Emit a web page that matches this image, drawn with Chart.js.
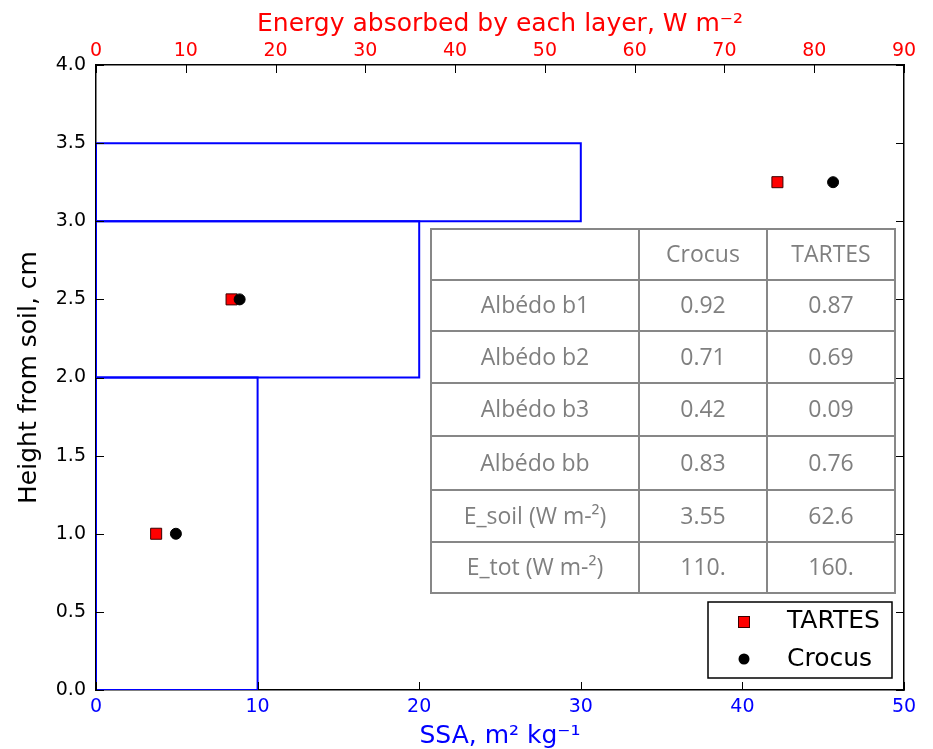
<!DOCTYPE html>
<html><head><meta charset="utf-8">
<script src="https://cdn.jsdelivr.net/npm/chart.js@4"></script>
<style>html,body{margin:0;padding:0;background:#fff;overflow:hidden}</style>
</head><body>
<canvas id="c" width="933" height="749"></canvas>
<script>
// ---- data ----
const layerBottom = [0, 2, 3];
const layerTop = [2, 3, 3.5];
const layerSSA = [10, 20, 30];
const pointHeights = [1.0, 2.5, 3.25];
const tartesEnergy = [6.7, 15.1, 75.9];
const crocusEnergy = [8.9, 16.0, 82.1];
const tableHeader = ['', 'Crocus', 'TARTES'];
const tableRowLabels = ['Albédo b1', 'Albédo b2', 'Albédo b3', 'Albédo bb', 'E_soil (W m-²)', 'E_tot (W m-²)'];
const tableCrocus = ['0.92', '0.71', '0.42', '0.83', '3.55', '110.'];
const tableTartes = ['0.87', '0.69', '0.09', '0.76', '62.6', '160.'];
const seriesLabels = ['TARTES', 'Crocus'];

const BLUE = '#0000ff', RED = '#ff0000';
const FONT = 'DejaVu Sans';

const layerDatasets = layerSSA.map((s, i) => ({
  label: 'layer' + (i + 1),
  data: [
    {x: 0, y: layerBottom[i]}, {x: s, y: layerBottom[i]},
    {x: s, y: layerTop[i]}, {x: 0, y: layerTop[i]}, {x: 0, y: layerBottom[i]}
  ],
  showLine: true, borderColor: BLUE, borderWidth: 2, pointRadius: 0,
  xAxisID: 'x', yAxisID: 'y', order: 5, tension: 0
}));

const tartesDs = {
  label: seriesLabels[0],
  data: tartesEnergy.map((e, i) => ({x: e, y: pointHeights[i]})),
  xAxisID: 'x2', yAxisID: 'y', pointStyle: 'rect', pointRadius: 7.8,
  backgroundColor: RED, borderColor: '#3a0000', borderWidth: 1, order: 2
};
const crocusDs = {
  label: seriesLabels[1],
  data: crocusEnergy.map((e, i) => ({x: e, y: pointHeights[i]})),
  xAxisID: 'x2', yAxisID: 'y', pointStyle: 'circle', pointRadius: 5.5,
  backgroundColor: '#000', borderColor: '#000', borderWidth: 1, order: 1
};

const overlayPlugin = {
  id: 'overlay',
  afterDatasetsDraw(chart) {
    const ctx = chart.ctx;
    const ca = chart.chartArea;
    ctx.save();
    // ---- table ----
    const colX = [431, 639, 767, 895];
    const rowY = [229, 280, 331, 383, 436, 490, 542, 593];
    ctx.fillStyle = '#fff';
    ctx.fillRect(colX[0], rowY[0], colX[3] - colX[0], rowY[7] - rowY[0]);
    ctx.strokeStyle = '#878787';
    ctx.lineWidth = 2;
    ctx.beginPath();
    rowY.forEach(y => { ctx.moveTo(colX[0] - 1, y); ctx.lineTo(colX[3] + 1, y); });
    colX.forEach(x => { ctx.moveTo(x, rowY[0]); ctx.lineTo(x, rowY[7]); });
    ctx.stroke();
    ctx.fillStyle = '#7f7f7f';
    ctx.font = '23px "Open Sans"';
    ctx.textAlign = 'center';
    ctx.textBaseline = 'middle';
    const rows = [tableHeader].concat(tableRowLabels.map((l, i) => [l, tableCrocus[i], tableTartes[i]]));
    rows.forEach((r, ri) => {
      const cy = (rowY[ri] + rowY[ri + 1]) / 2 + 1;
      r.forEach((t, ci) => {
        ctx.fillText(t, (colX[ci] + colX[ci + 1]) / 2, cy);
      });
    });
    // ---- legend ----
    ctx.fillStyle = '#fff';
    ctx.fillRect(708, 602, 184, 76);
    ctx.strokeStyle = '#000';
    ctx.lineWidth = 1.5;
    ctx.strokeRect(708, 602, 184, 76);
    ctx.fillStyle = RED;
    ctx.fillRect(738.5, 616.5, 11, 11);
    ctx.strokeStyle = '#3a0000';
    ctx.lineWidth = 1;
    ctx.strokeRect(738.5, 616.5, 11, 11);
    ctx.fillStyle = '#000';
    ctx.beginPath();
    ctx.arc(744, 659, 5.5, 0, Math.PI * 2);
    ctx.fill();
    ctx.font = '25px "' + FONT + '"';
    ctx.textAlign = 'left';
    ctx.textBaseline = 'middle';
    ctx.fillText(chart.data.datasets.find(d => d.label === seriesLabels[0]).label, 787, 621);
    ctx.fillText(chart.data.datasets.find(d => d.label === seriesLabels[1]).label, 787, 659);
    // ---- inward tick marks ----
    ctx.strokeStyle = '#000';
    ctx.lineWidth = 1;
    ctx.beginPath();
    const L = 8;
    const sx = chart.scales.x, sx2 = chart.scales.x2, sy = chart.scales.y;
    sx.ticks.forEach(t => { const p = Math.round(sx.getPixelForValue(t.value)) + 0.5; ctx.moveTo(p, ca.bottom); ctx.lineTo(p, ca.bottom - L); });
    sx2.ticks.forEach(t => { const p = Math.round(sx2.getPixelForValue(t.value)) + 0.5; ctx.moveTo(p, ca.top); ctx.lineTo(p, ca.top + L); });
    sy.ticks.forEach(t => { const p = Math.round(sy.getPixelForValue(t.value)) + 0.5; ctx.moveTo(ca.left, p); ctx.lineTo(ca.left + L, p); ctx.moveTo(ca.right, p); ctx.lineTo(ca.right - L, p); });
    ctx.stroke();
    ctx.restore();
  }
};

const borderOpt = {display: true, color: '#000', width: 1.5};
const gridOpt = {display: true, drawOnChartArea: false, drawTicks: false};

new Chart(document.getElementById('c'), {
  type: 'scatter',
  data: {datasets: [crocusDs, tartesDs].concat(layerDatasets)},
  options: {
    responsive: false, animation: false, devicePixelRatio: 1,
    layout: {padding: 0},
    plugins: {legend: {display: false}, tooltip: {enabled: false}},
    scales: {
      x: {
        type: 'linear', position: 'bottom', min: 0, max: 50,
        ticks: {stepSize: 10, color: BLUE, font: {family: FONT, size: 19}, padding: 6},
        title: {display: true, text: 'SSA, m² kg⁻¹', color: BLUE, font: {family: FONT, size: 25, lineHeight: 0.9}, padding: {top: 0, bottom: 1}},
        grid: gridOpt, border: borderOpt,
        afterFit: s => { s.height = 59; }
      },
      x2: {
        type: 'linear', position: 'top', min: 0, max: 90,
        ticks: {stepSize: 10, color: RED, font: {family: FONT, size: 19}, padding: 3},
        title: {display: true, text: 'Energy absorbed by each layer, W m⁻²', color: RED, font: {family: FONT, size: 25, lineHeight: 0.9}, padding: {top: 13, bottom: 0}},
        grid: gridOpt, border: borderOpt,
        afterFit: s => { s.height = 65; }
      },
      y: {
        type: 'linear', position: 'left', min: 0, max: 4,
        ticks: {stepSize: 0.5, color: '#000', font: {family: FONT, size: 19}, padding: 10, callback: v => v.toFixed(1)},
        title: {display: true, text: 'Height from soil, cm', color: '#000', font: {family: FONT, size: 25, lineHeight: 0.9}, padding: {top: 18, bottom: 0}},
        grid: gridOpt, border: borderOpt,
        afterFit: s => { s.width = 96; }
      },
      y2: {
        type: 'linear', position: 'right', min: 0, max: 4,
        ticks: {display: false, stepSize: 0.5},
        grid: gridOpt, border: borderOpt,
        afterFit: s => { s.width = 29; }
      }
    }
  },
  plugins: [overlayPlugin]
});
</script>
</body></html>
